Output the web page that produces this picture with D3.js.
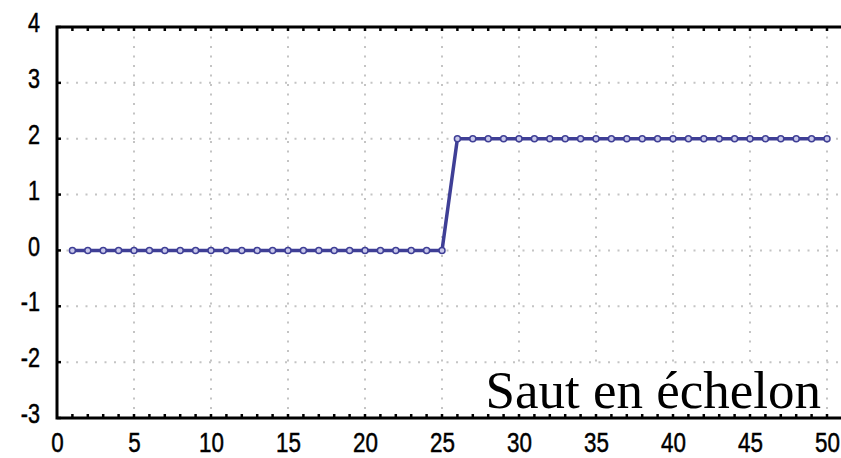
<!DOCTYPE html>
<html>
<head>
<meta charset="utf-8">
<script src="https://cdn.jsdelivr.net/npm/d3@7"></script>
<style>
  body { margin: 0; background: #fff; }
  svg { display: block; }
</style>
</head>
<body>
<script>
const xSteps = d3.range(1, 51);
const yValues = [
  0, 0, 0, 0, 0, 0, 0, 0, 0, 0,
  0, 0, 0, 0, 0, 0, 0, 0, 0, 0,
  0, 0, 0, 0, 0,
  2, 2, 2, 2, 2, 2, 2, 2, 2, 2,
  2, 2, 2, 2, 2, 2, 2, 2, 2, 2,
  2, 2, 2, 2, 2
];
const xTickLabels = [0, 5, 10, 15, 20, 25, 30, 35, 40, 45, 50];
const yTickLabels = [-3, -2, -1, 0, 1, 2, 3, 4];
const caption = "Saut en échelon";

const W = 841, H = 458;
const tickFont = "'Liberation Sans', Arial, sans-serif";
const svg = d3.select("body").append("svg").attr("width", W).attr("height", H);

let x = d3.scaleLinear().domain([0, 50]).range([57, 827]);
let y = d3.scaleLinear().domain([-3, 4]).range([418, 27]);

// dotted grid
svg.append("g")
  .selectAll("line")
  .data(xTickLabels.filter(d => d > 0))
  .enter().append("line")
  .attr("x1", d => x(d)).attr("x2", d => x(d))
  .attr("y1", y(4)).attr("y2", y(-3))
  .attr("stroke", "#c4c4c4").attr("stroke-width", 2)
  .attr("stroke-dasharray", "2,7.5");
svg.append("g")
  .selectAll("line")
  .data(yTickLabels.filter(d => d > -3 && d < 4))
  .enter().append("line")
  .attr("x1", x(0)).attr("x2", W)
  .attr("y1", d => y(d)).attr("y2", d => y(d))
  .attr("stroke", "#c4c4c4").attr("stroke-width", 2)
  .attr("stroke-dasharray", "2,7.5");

// caption box
svg.append("rect")
  .attr("x", 480).attr("y", 368).attr("width", 345).attr("height", 46)
  .attr("fill", "#fff");
svg.append("text")
  .attr("x", 821).attr("y", 408)
  .attr("text-anchor", "end")
  .attr("font-family", "'Liberation Serif', 'Times New Roman', serif")
  .attr("font-size", 53)
  .attr("fill", "#000")
  .text(caption);

// minor ticks (inward) on top and bottom
const minor = d3.range(1, 51);
svg.append("g").selectAll("line").data(minor).enter().append("line")
  .attr("x1", d => x(d)).attr("x2", d => x(d))
  .attr("y1", y(4)).attr("y2", y(4) + 4)
  .attr("stroke", "#000").attr("stroke-width", 2.5);
svg.append("g").selectAll("line").data(minor).enter().append("line")
  .attr("x1", d => x(d)).attr("x2", d => x(d))
  .attr("y1", y(-3)).attr("y2", y(-3) - 4)
  .attr("stroke", "#000").attr("stroke-width", 2.5);
svg.append("g").selectAll("line").data(yTickLabels).enter().append("line")
  .attr("x1", x(0)).attr("x2", x(0) + 4)
  .attr("y1", d => y(d)).attr("y2", d => y(d))
  .attr("stroke", "#000").attr("stroke-width", 2.5);

// frame
svg.append("path")
  .attr("d", `M${W},${y(4)}H${x(0)}V${y(-3)}H${W}`)
  .attr("fill", "none").attr("stroke", "#000").attr("stroke-width", 3);

// axes labels (narrowed to match the condensed look)
const xAxis = d3.axisBottom(x).tickValues(xTickLabels).tickFormat(d => String(d))
  .tickSize(0).tickPadding(14);
const gx = svg.append("g").attr("transform", `translate(0,${y(-3)})`).call(xAxis);
gx.select(".domain").remove();
gx.selectAll("text")
  .attr("font-family", tickFont)
  .attr("font-size", 28).attr("fill", "#000")
  .attr("stroke", "#000").attr("stroke-width", 0.5)
  .attr("transform", "scale(0.8,1)");

const yAxis = d3.axisLeft(y).tickValues(yTickLabels).tickFormat(d => String(d))
  .tickSize(0).tickPadding(0);
const gy = svg.append("g").attr("transform", `translate(40,-4)`).call(yAxis);
gy.select(".domain").remove();
gy.selectAll("text")
  .attr("font-family", tickFont)
  .attr("font-size", 27).attr("fill", "#000")
  .attr("stroke", "#000").attr("stroke-width", 0.5)
  .attr("transform", "scale(0.8,1)");

// series
const pts = xSteps.map((d, i) => [d, yValues[i]]);
const line = d3.line().x(d => x(d[0])).y(d => y(d[1]));
svg.append("path")
  .datum(pts)
  .attr("d", line)
  .attr("fill", "none")
  .attr("stroke", "#3f3f96")
  .attr("stroke-width", 3.5);
svg.append("g").selectAll("circle").data(pts).enter().append("circle")
  .attr("cx", d => x(d[0])).attr("cy", d => y(d[1]))
  .attr("r", 3)
  .attr("fill", "#c8c8ea")
  .attr("stroke", "#3f3f96")
  .attr("stroke-width", 1.5);
</script>
</body>
</html>
